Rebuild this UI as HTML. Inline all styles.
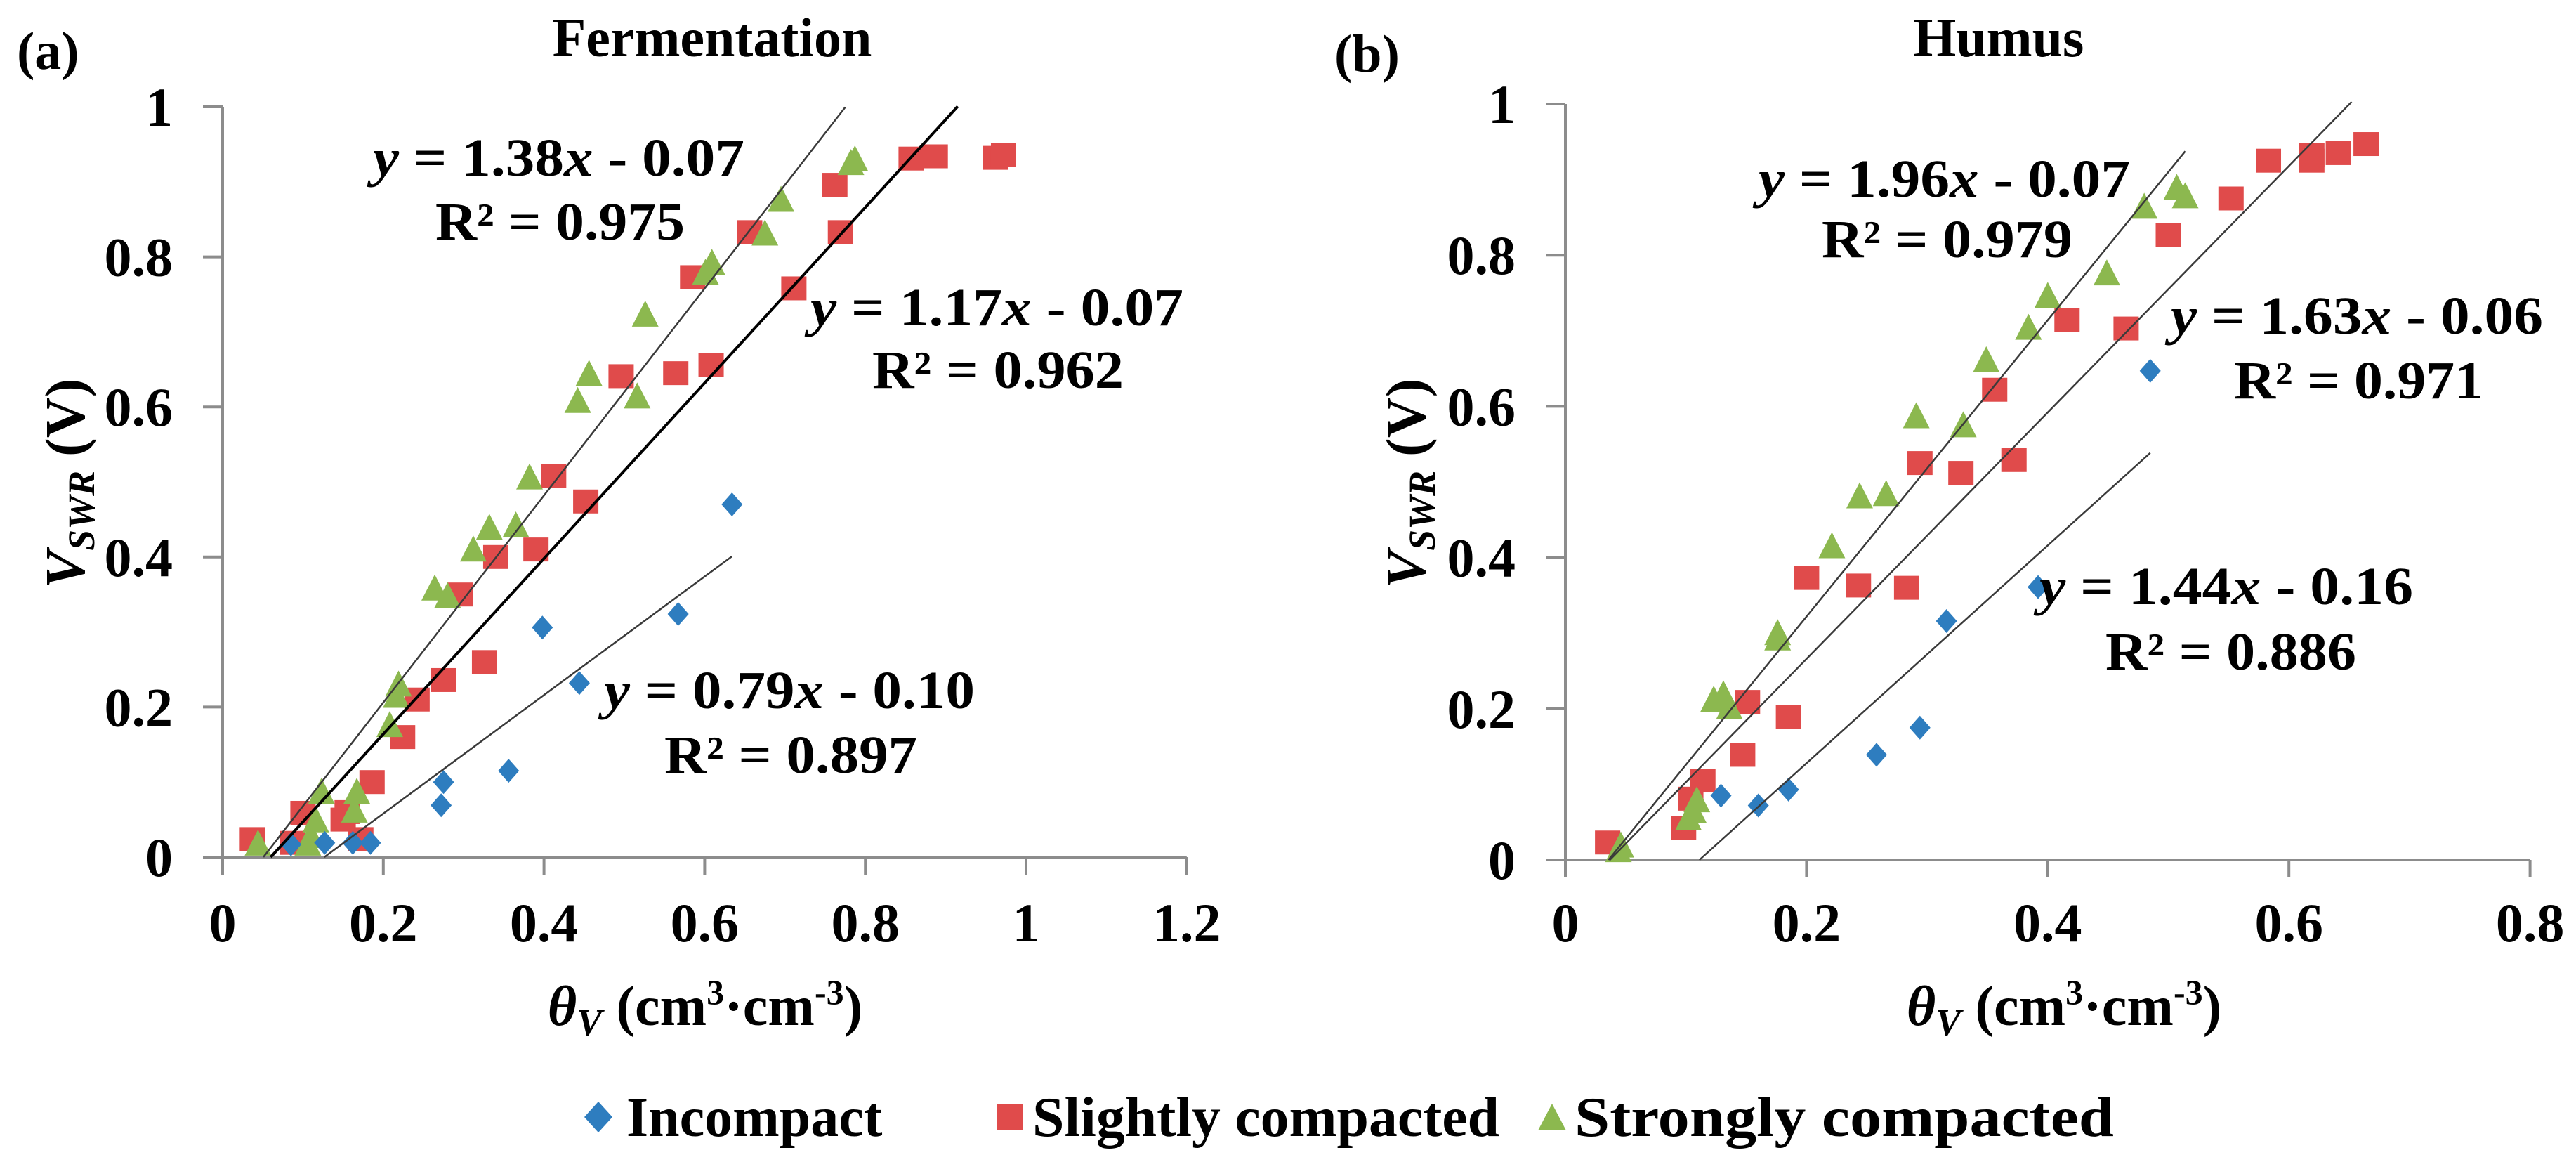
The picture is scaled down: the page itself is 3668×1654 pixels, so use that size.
<!DOCTYPE html>
<html><head><meta charset="utf-8"><style>
html,body{margin:0;padding:0;background:#fff;}
svg{display:block;font-family:"Liberation Serif","DejaVu Serif",serif;}
svg text{font-family:"Liberation Serif","DejaVu Serif",serif;font-weight:bold;fill:#000;}
</style></head><body>
<svg id="chart" width="3668" height="1654" viewBox="0 0 3668 1654" xmlns="http://www.w3.org/2000/svg" font-family="Liberation Serif, DejaVu Serif, serif" font-weight="bold">
<g id="plots"></g>
<text x="24" y="98" font-size="76">(a)</text>
<text x="1014" y="80" font-size="78" text-anchor="middle">Fermentation</text>
<text x="1900" y="102" font-size="76">(b)</text>
<text x="2846" y="80" font-size="78" text-anchor="middle">Humus</text>

<text transform="translate(120,688) rotate(-90)" font-size="80" text-anchor="middle"><tspan font-style="italic">V</tspan><tspan font-style="italic" font-size="54" dy="14">SWR</tspan><tspan dy="-14"> (V)</tspan></text>
<text transform="translate(2029,688) rotate(-90)" font-size="80" text-anchor="middle"><tspan font-style="italic">V</tspan><tspan font-style="italic" font-size="54" dy="14">SWR</tspan><tspan dy="-14"> (V)</tspan></text>

<text x="1004" y="1459" font-size="80" text-anchor="middle"><tspan font-style="italic">θ</tspan><tspan font-style="italic" font-size="54" dy="14">V</tspan><tspan dy="-14"> (cm</tspan><tspan font-size="50" dy="-30">3</tspan><tspan dy="30">·cm</tspan><tspan font-size="50" dy="-30">-3</tspan><tspan dy="30">)</tspan></text>
<text x="2939" y="1459" font-size="80" text-anchor="middle"><tspan font-style="italic">θ</tspan><tspan font-style="italic" font-size="54" dy="14">V</tspan><tspan dy="-14"> (cm</tspan><tspan font-size="50" dy="-30">3</tspan><tspan dy="30">·cm</tspan><tspan font-size="50" dy="-30">-3</tspan><tspan dy="30">)</tspan></text>

<g>
  <g>
    <polygon points="852,1568 872,1590 852,1612 832,1590" fill="#2E7DBF"/>
    <text x="892" y="1617" font-size="80">Incompact</text>
  </g>
  <g>
    <rect x="1420" y="1572" width="37" height="37" fill="#E04B4B"/>
    <text x="1470" y="1617" font-size="80" textLength="665" lengthAdjust="spacingAndGlyphs">Slightly compacted</text>
  </g>
  <g>
    <polygon points="2210,1571 2230,1609 2190,1609" fill="#8CB84F"/>
    <text x="2242" y="1617" font-size="80" textLength="768" lengthAdjust="spacingAndGlyphs">Strongly compacted</text>
  </g>
</g>
</svg>
<script>
// ---- Panel (a) Fermentation data ----
const aIncompactX = [0.085,0.127,0.162,0.184,0.272,0.275,0.356,0.398,0.444,0.567,0.634];
const aIncompactY = [0.017,0.019,0.019,0.019,0.069,0.100,0.115,0.306,0.232,0.324,0.470];
const aSlightX = [0.037,0.087,0.100,0.150,0.155,0.172,0.186,0.224,0.242,0.275,0.296,0.326,0.340,0.390,0.412,0.452,0.496,0.564,0.608,0.585,0.656,0.711,0.769,0.762,0.857,0.887,0.962,0.972];
const aSlightY = [0.024,0.019,0.059,0.050,0.060,0.024,0.100,0.160,0.210,0.236,0.350,0.260,0.400,0.410,0.508,0.474,0.641,0.645,0.656,0.773,0.833,0.758,0.833,0.896,0.931,0.934,0.932,0.936];
const aStrongX = [0.044,0.106,0.110,0.116,0.123,0.164,0.167,0.208,0.216,0.219,0.264,0.280,0.312,0.332,0.365,0.382,0.442,0.456,0.516,0.526,0.601,0.609,0.675,0.695,0.782,0.787];
const aStrongY = [0.017,0.017,0.027,0.048,0.086,0.061,0.086,0.175,0.214,0.229,0.357,0.347,0.409,0.438,0.441,0.505,0.607,0.643,0.613,0.722,0.778,0.791,0.830,0.875,0.924,0.929];
const aFitSlope = [0.79,1.17,1.38];
const aFitIntercept = [-0.10,-0.07,-0.07];
const aFitXEnd = [0.634,0.915,0.775];
const aXTicks = ["0","0.2","0.4","0.6","0.8","1","1.2"];
const aYTicks = ["0","0.2","0.4","0.6","0.8","1"];
const aEqLabels = ["y = 0.79x - 0.10","y = 1.17x - 0.07","y = 1.38x - 0.07"];
const aR2Labels = ["R² = 0.897","R² = 0.962","R² = 0.975"];

// ---- Panel (b) Humus data ----
const bIncompactX = [0.129,0.160,0.185,0.258,0.294,0.316,0.392,0.485];
const bIncompactY = [0.085,0.072,0.093,0.139,0.175,0.316,0.361,0.647];
const bSlightX = [0.035,0.098,0.104,0.114,0.151,0.147,0.185,0.200,0.243,0.283,0.294,0.328,0.372,0.356,0.416,0.465,0.500,0.552,0.583,0.619,0.619,0.641,0.664];
const bSlightY = [0.023,0.042,0.081,0.105,0.209,0.139,0.189,0.373,0.363,0.360,0.525,0.512,0.529,0.622,0.714,0.703,0.827,0.875,0.925,0.925,0.933,0.935,0.947];
const bStrongX = [0.044,0.046,0.102,0.106,0.109,0.123,0.131,0.136,0.176,0.176,0.221,0.244,0.266,0.291,0.330,0.349,0.384,0.400,0.449,0.480,0.507,0.514];
const bStrongY = [0.012,0.018,0.054,0.064,0.078,0.211,0.218,0.201,0.299,0.292,0.414,0.480,0.483,0.586,0.574,0.660,0.703,0.745,0.775,0.863,0.888,0.877];
const bFitSlope = [1.44,1.63,1.96];
const bFitIntercept = [-0.16,-0.06,-0.07];
const bFitXEnd = [0.485,0.652,0.514];
const bXTicks = ["0","0.2","0.4","0.6","0.8"];
const bYTicks = ["0","0.2","0.4","0.6","0.8","1"];
const bEqLabels = ["y = 1.44x - 0.16","y = 1.63x - 0.06","y = 1.96x - 0.07"];
const bR2Labels = ["R² = 0.886","R² = 0.971","R² = 0.979"];

const NS = "http://www.w3.org/2000/svg";
const FONT = "Liberation Serif, DejaVu Serif, serif";
const root = document.getElementById("plots");
function mk(tag, attrs, parent) {
  const e = document.createElementNS(NS, tag);
  for (const k in attrs) e.setAttribute(k, attrs[k]);
  if (tag === "text") { e.setAttribute("font-family", FONT); e.setAttribute("font-weight", "bold"); }
  parent.appendChild(e);
  return e;
}

function drawPanel(p) {
  const g = mk("g", {}, root);
  
  
  const sx = v => p.x0 + v * p.xu;
  const sy = v => p.y0 - v * p.yu;
  const axis = "#8c8c8c";
  const xmax = parseFloat(p.xt[p.xt.length - 1]);
  const xa = mk("line", {x1: p.x0 - 28, y1: p.y0, x2: sx(xmax), y2: p.y0, stroke: axis, "stroke-width": 4}, g);
  
  
  const ya = mk("line", {x1: p.x0, y1: sy(1), x2: p.x0, y2: p.y0 + 25, stroke: axis, "stroke-width": 4}, g);
  
  
  p.xt.forEach(t => {
    const v = parseFloat(t);
    mk("line", {x1: sx(v), y1: p.y0, x2: sx(v), y2: p.y0 + 25, stroke: axis, "stroke-width": 4}, g);
    const tx = mk("text", {x: sx(v), y: 1340, "font-size": 78, "text-anchor": "middle"}, g);
    tx.textContent = t;
    
    
  });
  p.yt.forEach(t => {
    const v = parseFloat(t);
    mk("line", {x1: p.x0 - 28, y1: sy(v), x2: p.x0, y2: sy(v), stroke: axis, "stroke-width": 4}, g);
    const tx = mk("text", {x: p.labRight, y: sy(v) + 27, "font-size": 78, "text-anchor": "end"}, g);
    tx.textContent = t;
    
    
  });
  p.sx.forEach((v, i) => {
    const cx = sx(v), cy = sy(p.sy[i]);
    const r = mk("rect", {x: cx - 18, y: cy - 17, width: 36, height: 34, fill: "#E04B4B"}, g);
    
    
  });
  p.gx.forEach((v, i) => {
    const cx = sx(v), cy = sy(p.gy[i]);
    const t = mk("polygon", {points: `${cx},${cy - 21} ${cx + 19},${cy + 16} ${cx - 19},${cy + 16}`, fill: "#8CB84F"}, g);
    
    
  });
  p.ix.forEach((v, i) => {
    const cx = sx(v), cy = sy(p.iy[i]);
    const d = mk("polygon", {points: `${cx},${cy - 17} ${cx + 15},${cy} ${cx},${cy + 17} ${cx - 15},${cy}`, fill: "#2E7DBF"}, g);
    
    
  });
  p.slope.forEach((m, i) => {
    const b = p.icpt[i];
    const xs = -b / m, xe = p.xend[i];
    const l = mk("line", {x1: sx(xs), y1: sy(0), x2: sx(xe), y2: sy(m * xe + b),
      stroke: p.bold === i ? "#000" : "#3a3a3a", "stroke-width": p.bold === i ? 4 : 2.5}, g);
    
    
  });
  p.eq.forEach((s, i) => {
    const pos = p.eqPos[i];
    const parts = s.split("x");
    const t = mk("text", {x: pos[0], y: pos[1], "font-size": 76, textLength: pos[2], lengthAdjust: "spacingAndGlyphs"}, g);
    
    
    const a1 = mk("tspan", {"font-style": "italic"}, t); a1.textContent = "y";
    const a2 = mk("tspan", {}, t); a2.textContent = parts[0].slice(1);
    const a3 = mk("tspan", {"font-style": "italic"}, t); a3.textContent = "x";
    const a4 = mk("tspan", {}, t); a4.textContent = parts[1];
    const r = mk("text", {x: pos[3], y: pos[4], "font-size": 76, textLength: pos[5], lengthAdjust: "spacingAndGlyphs"}, g);
    r.textContent = p.r2[i];
    
    
  });
}

drawPanel({name: "panel-a-fermentation", x0: 317, xu: 1144, y0: 1220, yu: 1068, labRight: 246,
  ix: aIncompactX, iy: aIncompactY, sx: aSlightX, sy: aSlightY, gx: aStrongX, gy: aStrongY,
  slope: aFitSlope, icpt: aFitIntercept, xend: aFitXEnd, bold: 1, xt: aXTicks, yt: aYTicks,
  eq: aEqLabels, r2: aR2Labels,
  eqPos: [[860,1008,528,946,1100,360],[1154,463,531,1242,552,358],[531,250,529,620,341,355]]});
drawPanel({name: "panel-b-humus", x0: 2229, xu: 1717, y0: 1224, yu: 1076, labRight: 2158,
  ix: bIncompactX, iy: bIncompactY, sx: bSlightX, sy: bSlightY, gx: bStrongX, gy: bStrongY,
  slope: bFitSlope, icpt: bFitIntercept, xend: bFitXEnd, bold: -1, xt: bXTicks, yt: bYTicks,
  eq: bEqLabels, r2: bR2Labels,
  eqPos: [[2904,860,532,2998,953,357],[3091,475,530,3181,567,355],[2504,280,529,2594,366,357]]});
</script>
</body></html>
